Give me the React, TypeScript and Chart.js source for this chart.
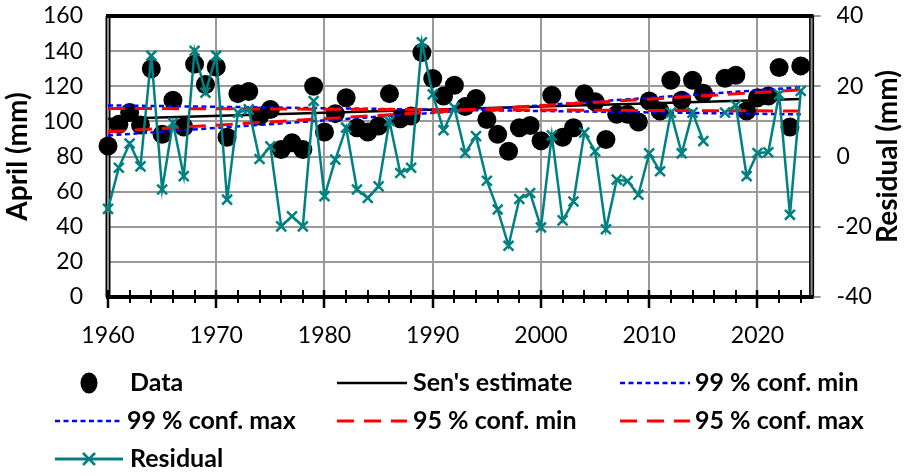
import React, { useEffect, useRef } from 'react';
import { Chart, registerables } from 'chart.js';

Chart.register(...registerables);

const years = [
  1960, 1961, 1962, 1963, 1964, 1965, 1966, 1967, 1968, 1969,
  1970, 1971, 1972, 1973, 1974, 1975, 1976, 1977, 1978, 1979,
  1980, 1981, 1982, 1983, 1984, 1985, 1986, 1987, 1988, 1989,
  1990, 1991, 1992, 1993, 1994, 1995, 1996, 1997, 1998, 1999,
  2000, 2001, 2002, 2003, 2004, 2005, 2006, 2007, 2008, 2009,
  2010, 2011, 2012, 2013, 2014, 2015, 2016, 2017, 2018, 2019,
  2020, 2021, 2022, 2023, 2024,
];

const aprilData: (number | null)[] = [
  86, 98.3, 105, 98, 130, 92.6, 112, 96.8, 132.6, 121,
  131, 91, 115.8, 117, 103, 106.8, 84, 87.8, 84, 120,
  93.9, 104.4, 113.5, 96.4, 93.9, 97.3, 115.8, 101.5, 103, 139.2,
  124.4, 114.5, 120.6, 108.4, 113, 101, 92.6, 83, 96.4, 97.7,
  89, 114.9, 91, 96.4, 115.8, 111.2, 89.7, 104, 104, 99.6,
  111.6, 105.9, 123.4, 112, 123.4, 116, null, 124.6, 126.3, 105.9,
  113.5, 114.5, 130.7, 96.8, 131.6,
];

const residuals: (number | null)[] = [
  -14.9, -3.2, 3.7, -2.8, 28.7, -9.4, 9.6, -5.6, 30.1, 18.2,
  28.7, -12.3, 12.5, 13.4, -0.7, 2.9, -19.9, -17, -19.9, 15.8,
  -11.3, -0.9, 8.2, -9.4, -11.8, -8.5, 10.1, -4.7, -3.2, 32.5,
  17.7, 7.5, 13.9, 1, 5.8, -6.9, -15.1, -25.4, -12.1, -10.4,
  -20.2, 6, -18.2, -12.8, 6.8, 1.5, -20.7, -6.6, -7, -10.9,
  0.9, -4.2, 12.5, 0.9, 12.5, 4.4, null, 12.5, 14.6, -5.6,
  1, 1.2, 17.7, -16.6, 18.7,
];

const lineYears = [1960, 2024];
const senEstimate = [101.3, 112.8];
const conf99Min = [109.1, 104.0];
const conf99Max = [92.0, 119.4];
const conf95Min = [107.4, 105.9];
const conf95Max = [94.1, 117.9];

const xTickValues = [1960, 1970, 1980, 1990, 2000, 2010, 2020];

const FONT = 'Lato, "Liberation Sans", sans-serif';
const TEAL = '#008080';
const BLUE = '#0000FF';
const RED = '#FF0000';
const GRID = '#9a9a9a';

const pts = (xs: number[], ys: (number | null)[]) => xs.map((x, i) => ({ x, y: ys[i] }));

const framePlugin = {
  id: 'frame',
  beforeDatasetsDraw(chart: any) {
    const { ctx, chartArea } = chart;
    const { left, right, top, bottom } = chartArea;
    const xs = chart.scales.x;
    ctx.save();
    ctx.strokeStyle = '#000';
    ctx.lineWidth = 4;
    ctx.beginPath();
    ctx.moveTo(left - 2, top);
    ctx.lineTo(right + 2, top);
    ctx.stroke();
    [left, right].forEach((x) => {
      ctx.strokeStyle = '#000';
      ctx.lineWidth = 5;
      ctx.beginPath();
      ctx.moveTo(x, top);
      ctx.lineTo(x, bottom);
      ctx.stroke();
      ctx.strokeStyle = '#8c8c8c';
      ctx.lineWidth = 2;
      ctx.beginPath();
      ctx.moveTo(x, top + 2);
      ctx.lineTo(x, bottom - 2);
      ctx.stroke();
    });
    ctx.strokeStyle = '#000';
    ctx.lineWidth = 4;
    ctx.beginPath();
    ctx.moveTo(left - 2, bottom);
    ctx.lineTo(right + 2, bottom);
    ctx.stroke();
    for (let yr = 1960; yr <= 2024; yr += 2) {
      const x = Math.round(xs.getPixelForValue(yr));
      ctx.beginPath();
      if (yr % 10 === 0) {
        ctx.lineWidth = 2.5;
        ctx.moveTo(x, bottom - 7);
        ctx.lineTo(x, bottom + 11);
      } else {
        ctx.lineWidth = 2;
        ctx.moveTo(x, bottom - 7);
        ctx.lineTo(x, bottom + 6);
      }
      ctx.stroke();
    }
    ctx.restore();
  },
  afterDraw(chart: any) {
    const { ctx, chartArea } = chart;
    const midY = (chartArea.top + chartArea.bottom) / 2;
    ctx.save();
    ctx.fillStyle = '#000';
    ctx.font = `bold 28px ${FONT}`;
    ctx.textAlign = 'center';
    ctx.textBaseline = 'middle';
    ctx.save();
    ctx.translate(18, midY);
    ctx.rotate(-Math.PI / 2);
    ctx.fillText('April (mm)', 0, 0);
    ctx.restore();
    ctx.save();
    ctx.translate(888, midY);
    ctx.rotate(-Math.PI / 2);
    ctx.fillText('Residual (mm)', 0, 0);
    ctx.restore();

    const rowY = [383, 421, 459];
    const col = [
      { l0: 55, l1: 123, t: 130 },
      { l0: 337, l1: 407, t: 413 },
      { l0: 620, l1: 690, t: 695 },
    ];
    const drawLine = (x0: number, x1: number, y: number, color: string, width: number, dash: number[]) => {
      ctx.save();
      ctx.strokeStyle = color;
      ctx.lineWidth = width;
      ctx.setLineDash(dash);
      ctx.beginPath();
      ctx.moveTo(x0, y);
      ctx.lineTo(x1, y);
      ctx.stroke();
      ctx.restore();
    };
    const text = (s: string, x: number, y: number) => {
      ctx.font = `bold 25px ${FONT}`;
      ctx.textAlign = 'left';
      ctx.textBaseline = 'middle';
      ctx.fillStyle = '#000';
      ctx.fillText(s, x, y);
    };
    ctx.fillStyle = '#000';
    ctx.beginPath();
    ctx.ellipse(89, rowY[0], 8.5, 10.5, 0, 0, Math.PI * 2);
    ctx.fill();
    text('Data', col[0].t, rowY[0]);
    drawLine(col[1].l0, col[1].l1, rowY[0], '#000', 2.5, []);
    text("Sen's estimate", col[1].t, rowY[0]);
    drawLine(col[2].l0, col[2].l1, rowY[0], BLUE, 2.5, [5, 3.5]);
    text('99 % conf. min', col[2].t, rowY[0]);
    drawLine(col[0].l0, col[0].l1, rowY[1], BLUE, 2.5, [5, 3.5]);
    text('99 % conf. max', col[0].t - 3, rowY[1]);
    drawLine(col[1].l0, col[1].l1, rowY[1], RED, 3, [17, 10]);
    text('95 % conf. min', col[1].t, rowY[1]);
    drawLine(col[2].l0, col[2].l1, rowY[1], RED, 3, [17, 10]);
    text('95 % conf. max', col[2].t, rowY[1]);
    drawLine(col[0].l0, col[0].l1, rowY[2], TEAL, 3, []);
    ctx.save();
    ctx.strokeStyle = TEAL;
    ctx.lineWidth = 2.5;
    ctx.beginPath();
    ctx.moveTo(89 - 6, rowY[2] - 6);
    ctx.lineTo(89 + 6, rowY[2] + 6);
    ctx.moveTo(89 - 6, rowY[2] + 6);
    ctx.lineTo(89 + 6, rowY[2] - 6);
    ctx.stroke();
    ctx.restore();
    text('Residual', col[0].t, rowY[2]);
    ctx.restore();
  },
};

export default function App() {
  const ref = useRef<HTMLCanvasElement>(null);
  useEffect(() => {
    if (!ref.current) return;
    const tickFont = { family: FONT, size: 23 };
    const chart = new Chart(ref.current, {
      type: 'line',
      data: {
        datasets: [
          {
            label: 'Data',
            data: pts(years, aprilData),
            showLine: false,
            pointRadius: 9.5,
            pointHoverRadius: 9.5,
            pointBackgroundColor: '#000',
            pointBorderWidth: 0,
            borderColor: '#000',
            yAxisID: 'y',
            order: 7,
            clip: false as any,
          },
          {
            label: "Sen's estimate",
            data: pts(lineYears, senEstimate),
            borderColor: '#000',
            borderWidth: 2.5,
            pointRadius: 0,
            yAxisID: 'y',
            order: 6,
          },
          {
            label: '99 % conf. min',
            data: pts(lineYears, conf99Min),
            borderColor: BLUE,
            borderWidth: 2.5,
            borderDash: [5, 3.5],
            pointRadius: 0,
            yAxisID: 'y',
            order: 5,
          },
          {
            label: '99 % conf. max',
            data: pts(lineYears, conf99Max),
            borderColor: BLUE,
            borderWidth: 2.5,
            borderDash: [5, 3.5],
            pointRadius: 0,
            yAxisID: 'y',
            order: 4,
          },
          {
            label: '95 % conf. min',
            data: pts(lineYears, conf95Min),
            borderColor: RED,
            borderWidth: 3,
            borderDash: [17, 10],
            pointRadius: 0,
            yAxisID: 'y',
            order: 3,
          },
          {
            label: '95 % conf. max',
            data: pts(lineYears, conf95Max),
            borderColor: RED,
            borderWidth: 3,
            borderDash: [17, 10],
            pointRadius: 0,
            yAxisID: 'y',
            order: 2,
          },
          {
            label: 'Residual',
            data: pts(years, residuals),
            borderColor: TEAL,
            borderWidth: 2.5,
            pointStyle: 'crossRot',
            pointRadius: 7,
            pointHoverRadius: 7,
            pointBorderColor: TEAL,
            pointBorderWidth: 2.5,
            spanGaps: false,
            yAxisID: 'y1',
            order: 1,
            clip: false as any,
          },
        ],
      },
      options: {
        responsive: false,
        animation: false,
        layout: { padding: { top: 16, left: 0, right: 0, bottom: 0 } },
        plugins: {
          legend: { display: false },
          tooltip: { enabled: false },
        },
        scales: {
          x: {
            type: 'linear',
            min: 1960,
            max: 2025,
            afterBuildTicks: (s: any) => {
              s.ticks = xTickValues.map((v) => ({ value: v }));
            },
            afterFit: (s: any) => {
              s.height = 178;
              s.paddingLeft = 0;
              s.paddingRight = 0;
              s.paddingTop = 0;
              s.paddingBottom = 0;
            },
            grid: { color: GRID, lineWidth: 2, drawTicks: false },
            border: { display: false },
            ticks: {
              padding: 25,
              font: tickFont,
              color: '#000',
              maxRotation: 0,
              autoSkip: false,
              callback: (v: any) => String(v),
            },
          },
          y: {
            position: 'left',
            min: 0,
            max: 160,
            afterFit: (s: any) => {
              s.width = 108;
              s.paddingTop = 0;
              s.paddingBottom = 0;
              s.paddingLeft = 0;
              s.paddingRight = 0;
            },
            grid: { color: GRID, lineWidth: 2, drawTicks: false },
            border: { display: false },
            ticks: { stepSize: 20, padding: 25, font: tickFont, color: '#000' },
          },
          y1: {
            position: 'right',
            min: -40,
            max: 40,
            afterFit: (s: any) => {
              s.width = 912 - 811.6;
              s.paddingTop = 0;
              s.paddingBottom = 0;
              s.paddingLeft = 0;
              s.paddingRight = 0;
            },
            grid: { drawOnChartArea: false, drawTicks: true, tickLength: 9, color: GRID, lineWidth: 2 },
            border: { display: false },
            ticks: { stepSize: 20, padding: 16, font: tickFont, color: '#000' },
          },
        },
      },
      plugins: [framePlugin],
    });
    return () => chart.destroy();
  }, []);

  return (
    <div style={{ position: 'absolute', left: 0, top: 0, width: 912, height: 475, background: '#fff' }}>
      <canvas ref={ref} width={912} height={475} style={{ display: 'block' }} />
    </div>
  );
}
